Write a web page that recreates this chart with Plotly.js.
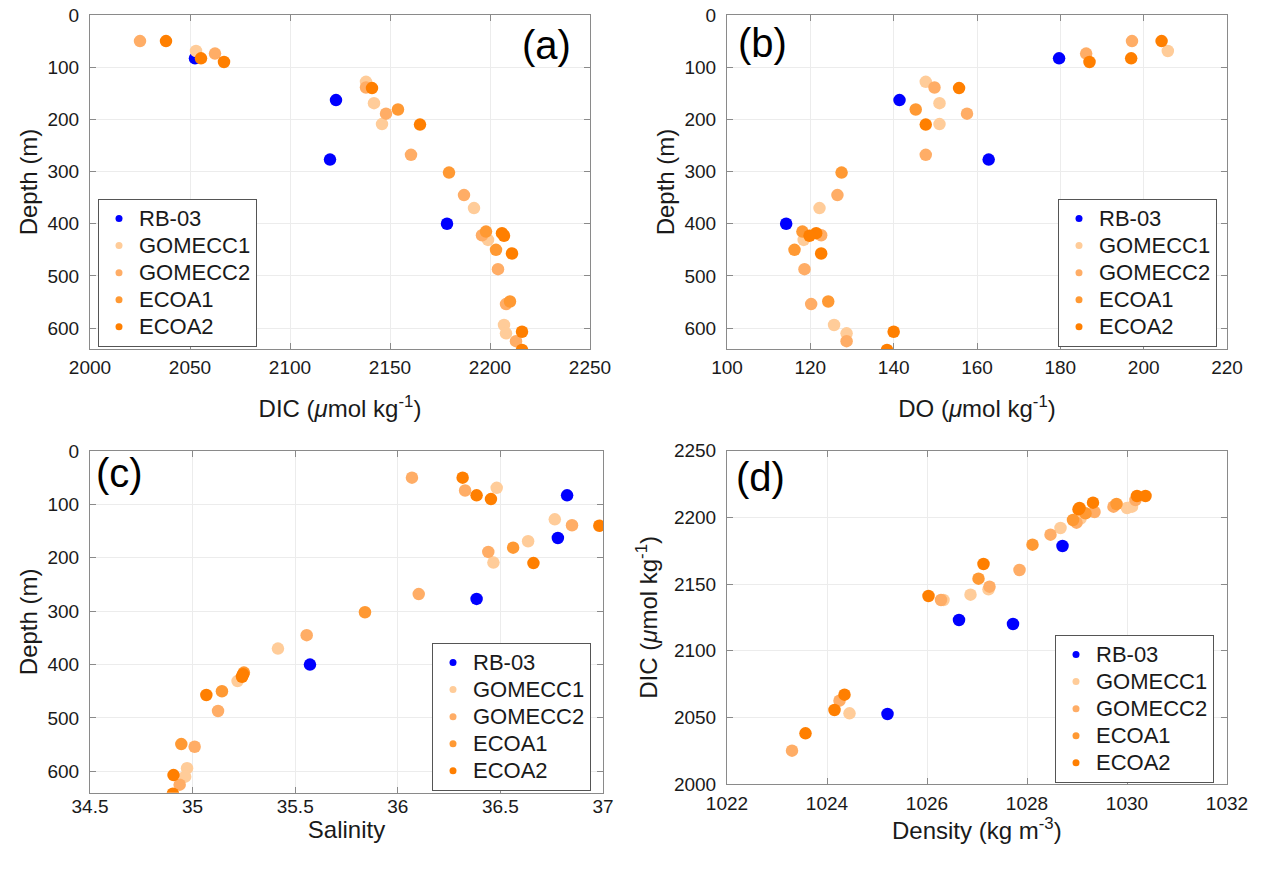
<!DOCTYPE html>
<html>
<head>
<meta charset="utf-8">
<script src="https://cdn.plot.ly/plotly-3.0.1.min.js"></script>
<style>html,body{margin:0;padding:0;background:#fff;}#chart{width:1266px;height:869px;}</style>
</head>
<body>
<div id="chart"></div>
<script>
// ---------------- data ----------------
const stationNames = ['RB-03', 'GOMECC1', 'GOMECC2', 'ECOA1', 'ECOA2'];

const rb03Depth   = [83, 163, 277, 400];
const rb03DIC     = [2052.5, 2123, 2120, 2178.5];
const rb03DO      = [179.7, 141.4, 162.8, 114.2];
const rb03Sal     = [36.825, 36.78, 36.384, 35.572];
const rb03Dens    = [1025.21, 1026.64, 1027.72, 1028.71];

const gomecc1Depth = [69, 128, 169, 209, 370, 431, 594, 610];
const gomecc1DIC   = [2053, 2138, 2142, 2146, 2192, 2199, 2207, 2208];
const gomecc1DO    = [205.8, 147.7, 151, 151, 122.2, 118.4, 125.7, 128.7];
const gomecc1Sal   = [36.482, 36.765, 36.635, 36.466, 35.416, 35.219, 34.973, 34.964];
const gomecc1Dens  = [1024.45, 1026.33, 1026.87, 1027.23, 1028.67, 1029.07, 1030.0, 1030.1];

const gomecc2Depth = [50, 74, 139, 189, 268, 345, 422, 487, 554, 625];
const gomecc2DIC   = [2025, 2062.5, 2138, 2148, 2160.5, 2187, 2196, 2204, 2208, 2213];
const gomecc2DO    = [197.2, 186.2, 149.8, 157.6, 147.7, 126.5, 122.6, 118.6, 120.2, 128.7];
const gomecc2Sal   = [36.069, 36.328, 36.849, 36.441, 36.102, 35.556, 35.24, 35.124, 35.01, 34.937];
const gomecc2Dens  = [1023.3, 1024.25, 1026.28, 1027.25, 1027.85, 1028.47, 1028.99, 1029.35, 1029.73, 1030.17];

const ecoa1Depth = [181, 302, 415, 450, 549];
const ecoa1DIC   = [2154, 2179.5, 2198, 2203, 2210];
const ecoa1DO    = [145.3, 127.5, 118.1, 116.2, 124.3];
const ecoa1Sal   = [36.562, 35.84, 35.25, 35.143, 34.945];
const ecoa1Dens  = [1027.03, 1028.11, 1028.92, 1029.17, 1029.79];

const ecoa2Depth = [50, 83, 90, 140, 210, 418, 423, 457, 607, 642];
const ecoa2DIC   = [2038, 2055.5, 2067, 2141, 2165, 2206, 2207, 2211, 2216, 2216];
const ecoa2DO    = [204.3, 197, 187, 155.7, 147.7, 121.4, 119.8, 122.6, 140, 138.4];
const ecoa2Sal   = [36.316, 36.384, 36.454, 36.982, 36.661, 35.246, 35.241, 35.067, 34.907, 34.904];
const ecoa2Dens  = [1023.57, 1024.15, 1024.35, 1026.03, 1027.13, 1029.03, 1029.05, 1029.32, 1030.2, 1030.37];

const depthTicks = [0, 100, 200, 300, 400, 500, 600];
const salTicks = [34.5, 35, 35.5, 36, 36.5, 37];
const salTickText = ['34.5', '35', '35.5', '36', '36.5', '37'];

// ---------------- style ----------------
const stationColors = ['#0000ff', '#ffcc99', '#ffad66', '#ff9933', '#ff7f00'];

const stations = [
  {depth: rb03Depth, dic: rb03DIC, dox: rb03DO, sal: rb03Sal, dens: rb03Dens},
  {depth: gomecc1Depth, dic: gomecc1DIC, dox: gomecc1DO, sal: gomecc1Sal, dens: gomecc1Dens},
  {depth: gomecc2Depth, dic: gomecc2DIC, dox: gomecc2DO, sal: gomecc2Sal, dens: gomecc2Dens},
  {depth: ecoa1Depth, dic: ecoa1DIC, dox: ecoa1DO, sal: ecoa1Sal, dens: ecoa1Dens},
  {depth: ecoa2Depth, dic: ecoa2DIC, dox: ecoa2DO, sal: ecoa2Sal, dens: ecoa2Dens}
];

const panels = [
  {xa: 'x',  ya: 'y',  xk: 'dic',  yk: 'depth', legend: 'legend'},
  {xa: 'x2', ya: 'y2', xk: 'dox',  yk: 'depth', legend: 'legend2'},
  {xa: 'x3', ya: 'y3', xk: 'sal',  yk: 'depth', legend: 'legend3'},
  {xa: 'x4', ya: 'y4', xk: 'dens', yk: 'dic',   legend: 'legend4'}
];

const traces = [];
panels.forEach(function (p) {
  stations.forEach(function (s, i) {
    traces.push({
      type: 'scatter', mode: 'markers',
      x: s[p.xk], y: s[p.yk],
      xaxis: p.xa, yaxis: p.ya,
      name: stationNames[i], showlegend: false,
      marker: {color: stationColors[i], size: 12.5, line: {width: 0}},
      hoverinfo: 'x+y+name'
    });
  });
  stationNames.forEach(function (n, i) {
    traces.push({
      type: 'scatter', mode: 'markers',
      x: [null], y: [null], xaxis: p.xa, yaxis: p.ya,
      name: '<span style="font-size:22px">' + n + '</span>',
      legend: p.legend, showlegend: true,
      marker: {color: stationColors[i], size: 7}
    });
  });
});

const W = 1266, H = 869;
function px(x) { return x / W; }
function py(y) { return 1 - y / H; }

const FONT = 'Liberation Sans, Arial, Helvetica, sans-serif';
const tickFont = {family: FONT, size: 19, color: '#1a1a1a'};
const titleFont = {family: FONT, size: 24, color: '#1a1a1a'};

function axisBase(extra) {
  return Object.assign({
    showline: true, mirror: 'ticks', linecolor: '#8a8a8a', linewidth: 1,
    ticks: 'inside', ticklen: 6, tickcolor: '#8a8a8a', tickwidth: 1,
    showgrid: true, gridcolor: '#ececec', gridwidth: 1,
    zeroline: false, tickfont: tickFont, ticklabelstandoff: 6,
    fixedrange: true
  }, extra);
}

const layout = {
  width: W, height: H,
  margin: {l: 0, r: 0, t: 0, b: 0},
  paper_bgcolor: '#ffffff', plot_bgcolor: '#ffffff',
  font: {family: FONT, color: '#1a1a1a'},
  hovermode: 'closest',
  xaxis: axisBase({domain: [px(90), px(590)], range: [2000, 2250], dtick: 50, tick0: 2000,
    anchor: 'y', ticklabelstandoff: 1,
    title: {text: 'DIC (<i>μ</i>mol kg<sup>-1</sup>)', font: titleFont, standoff: 23}}),
  yaxis: axisBase({domain: [py(349), py(15)], range: [640, 0], tickvals: depthTicks,
    anchor: 'x',
    title: {text: 'Depth (m)', font: titleFont, standoff: 3}}),
  xaxis2: axisBase({domain: [px(727), px(1227)], range: [100, 220], dtick: 20, tick0: 100,
    anchor: 'y2', ticklabelstandoff: 1,
    title: {text: 'DO (<i>μ</i>mol kg<sup>-1</sup>)', font: titleFont, standoff: 23}}),
  yaxis2: axisBase({domain: [py(349), py(15)], range: [640, 0], tickvals: depthTicks,
    anchor: 'x2',
    title: {text: 'Depth (m)', font: titleFont, standoff: 3}}),
  xaxis3: axisBase({domain: [px(90), px(603)], range: [34.5, 37],
    tickvals: salTicks, ticktext: salTickText,
    anchor: 'y3', ticklabelstandoff: -4,
    title: {text: 'Salinity', font: titleFont, standoff: 2}}),
  yaxis3: axisBase({domain: [py(792.7), py(451)], range: [640, 0], tickvals: depthTicks,
    anchor: 'x3',
    title: {text: 'Depth (m)', font: titleFont, standoff: 3}}),
  xaxis4: axisBase({domain: [px(727), px(1227)], range: [1022, 1032], dtick: 2, tick0: 1022,
    anchor: 'y4', ticklabelstandoff: 2}),
  yaxis4: axisBase({domain: [py(784), py(450.7)], range: [2000, 2250], dtick: 50, tick0: 2000,
    anchor: 'x4',
    title: {text: 'DIC (<i>μ</i>mol kg<sup>-1</sup>)', font: titleFont, standoff: 9}}),
  annotations: [
    {text: '(a)', x: px(546), y: py(45), xref: 'paper', yref: 'paper', showarrow: false,
     font: {family: FONT, size: 40, color: '#000'}, xanchor: 'center', yanchor: 'middle'},
    {text: '(b)', x: px(762), y: py(43), xref: 'paper', yref: 'paper', showarrow: false,
     font: {family: FONT, size: 40, color: '#000'}, xanchor: 'center', yanchor: 'middle'},
    {text: '(c)', x: px(120), y: py(473), xref: 'paper', yref: 'paper', showarrow: false,
     font: {family: FONT, size: 40, color: '#000'}, xanchor: 'center', yanchor: 'middle'},
    {text: '(d)', x: px(760), y: py(477), xref: 'paper', yref: 'paper', showarrow: false,
     font: {family: FONT, size: 40, color: '#000'}, xanchor: 'center', yanchor: 'middle'},
    {text: 'Density (kg m<sup>-3</sup>)', x: px(977), y: py(829), xref: 'paper', yref: 'paper',
     showarrow: false, font: titleFont, xanchor: 'center', yanchor: 'middle'}
  ]
};

function legendBox(x, y) {
  return {x: px(x), y: py(y), xanchor: 'left', yanchor: 'top',
    bgcolor: '#ffffff', bordercolor: '#555555', borderwidth: 1,
    font: {family: FONT, size: 18.5, color: '#1a1a1a'},
    itemwidth: 30, tracegroupgap: 0};
}
layout.legend  = legendBox(98, 199);
layout.legend2 = legendBox(1058, 199);
layout.legend3 = legendBox(432, 643);
layout.legend4 = legendBox(1055, 635);

Plotly.newPlot('chart', traces, layout, {displayModeBar: false});
</script>
</body>
</html>
